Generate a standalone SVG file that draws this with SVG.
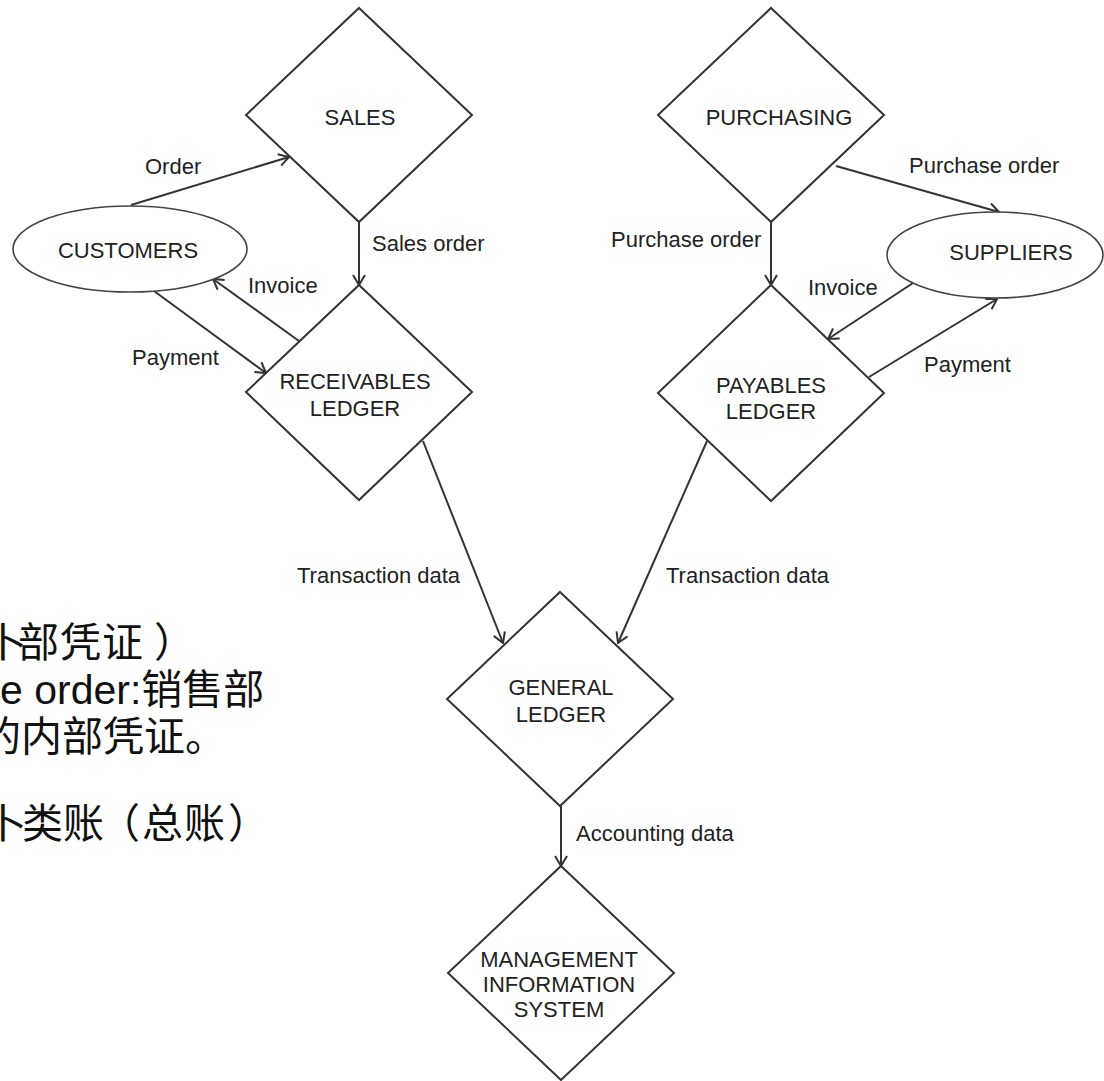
<svg xmlns="http://www.w3.org/2000/svg" width="1104" height="1081" viewBox="0 0 1104 1081">
  <style>
    .node { fill: #ffffff; stroke: #333333; stroke-width: 2; }
    .ent { fill: #ffffff; stroke: #444444; stroke-width: 1.6; }
    .lbl { font-family: "Liberation Sans", Arial, sans-serif; font-size: 22px; fill: #222222; }
    .mid { text-anchor: middle; }
    .edge { fill: none; stroke: #333333; stroke-width: 2; marker-end: url(#arr); }
    .note { font-family: "Liberation Sans", "Noto Sans CJK SC", sans-serif; font-size: 41px; fill: #111111; }
  </style>
  <defs>
    <marker id="arr" viewBox="0 0 12 14" refX="11" refY="7" markerWidth="12" markerHeight="14" orient="auto" markerUnits="userSpaceOnUse">
      <path d="M1,1 L11,7 L1,13" fill="none" stroke="#333333" stroke-width="2"/>
    </marker>
  </defs>
  <rect width="1104" height="1081" fill="#ffffff"/>

  <!-- side notes -->
  <g id="notes" class="note">
    <text x="-14 18 60 102 154" y="657">卜部凭证）</text>
    <text x="0" y="704">e order:销售部</text>
    <text x="-20" y="751">的内部凭证。</text>
    <text x="-14 22 63 99 142 184 228" y="838">卜类账（总账）</text>
  </g>

  <!-- connectors -->
  <g id="connectors">
    <line class="edge" x1="131" y1="205" x2="289" y2="157"/>
    <line class="edge" x1="359" y1="222" x2="359" y2="285"/>
    <line class="edge" x1="299" y1="341" x2="213" y2="279"/>
    <line class="edge" x1="154" y1="291" x2="266" y2="373"/>
    <line class="edge" x1="423" y1="441" x2="503" y2="643"/>
    <line class="edge" x1="771" y1="222" x2="771" y2="285"/>
    <line class="edge" x1="836" y1="166" x2="999" y2="212"/>
    <line class="edge" x1="913" y1="283" x2="828" y2="339"/>
    <line class="edge" x1="869" y1="377" x2="997" y2="299"/>
    <line class="edge" x1="707" y1="441" x2="618" y2="643"/>
    <line class="edge" x1="561" y1="806" x2="561" y2="866"/>

    <text class="lbl" x="145" y="174">Order</text>
    <text class="lbl" x="372" y="251">Sales order</text>
    <text class="lbl" x="248" y="293">Invoice</text>
    <text class="lbl" x="132" y="365">Payment</text>
    <text class="lbl" x="611" y="247">Purchase order</text>
    <text class="lbl" x="909" y="173">Purchase order</text>
    <text class="lbl" x="808" y="295">Invoice</text>
    <text class="lbl" x="924" y="372">Payment</text>
    <text class="lbl" x="297" y="583">Transaction data</text>
    <text class="lbl" x="666" y="583">Transaction data</text>
    <text class="lbl" x="576" y="841">Accounting data</text>
  </g>

  <!-- process nodes -->
  <g id="sales">
    <polygon class="node" points="359,8 472,115 359,222 246,115"/>
    <text class="lbl mid" x="360" y="125">SALES</text>
  </g>
  <g id="receivables">
    <polygon class="node" points="359,285 472,392 359,500 246,392"/>
    <text class="lbl mid" x="355" y="389">RECEIVABLES</text>
    <text class="lbl mid" x="355" y="416">LEDGER</text>
  </g>
  <g id="purchasing">
    <polygon class="node" points="771,8 884,115 771,222 658,115"/>
    <text class="lbl mid" x="779" y="125">PURCHASING</text>
  </g>
  <g id="payables">
    <polygon class="node" points="771,285 884,393 771,501 658,393"/>
    <text class="lbl mid" x="771" y="393">PAYABLES</text>
    <text class="lbl mid" x="771" y="419">LEDGER</text>
  </g>
  <g id="general-ledger">
    <polygon class="node" points="560,592 673,699 560,806 447,699"/>
    <text class="lbl mid" x="561" y="695">GENERAL</text>
    <text class="lbl mid" x="561" y="722">LEDGER</text>
  </g>
  <g id="mis">
    <polygon class="node" points="561,866 674,973 561,1080 448,973"/>
    <text class="lbl mid" x="559" y="967">MANAGEMENT</text>
    <text class="lbl mid" x="559" y="992">INFORMATION</text>
    <text class="lbl mid" x="559" y="1017">SYSTEM</text>
  </g>

  <!-- external entities -->
  <g id="customers">
    <ellipse class="ent" cx="130" cy="249" rx="117" ry="43"/>
    <text class="lbl mid" x="128" y="258">CUSTOMERS</text>
  </g>
  <g id="suppliers">
    <ellipse class="ent" cx="995" cy="255" rx="108" ry="43"/>
    <text class="lbl mid" x="1011" y="260">SUPPLIERS</text>
  </g>
</svg>
